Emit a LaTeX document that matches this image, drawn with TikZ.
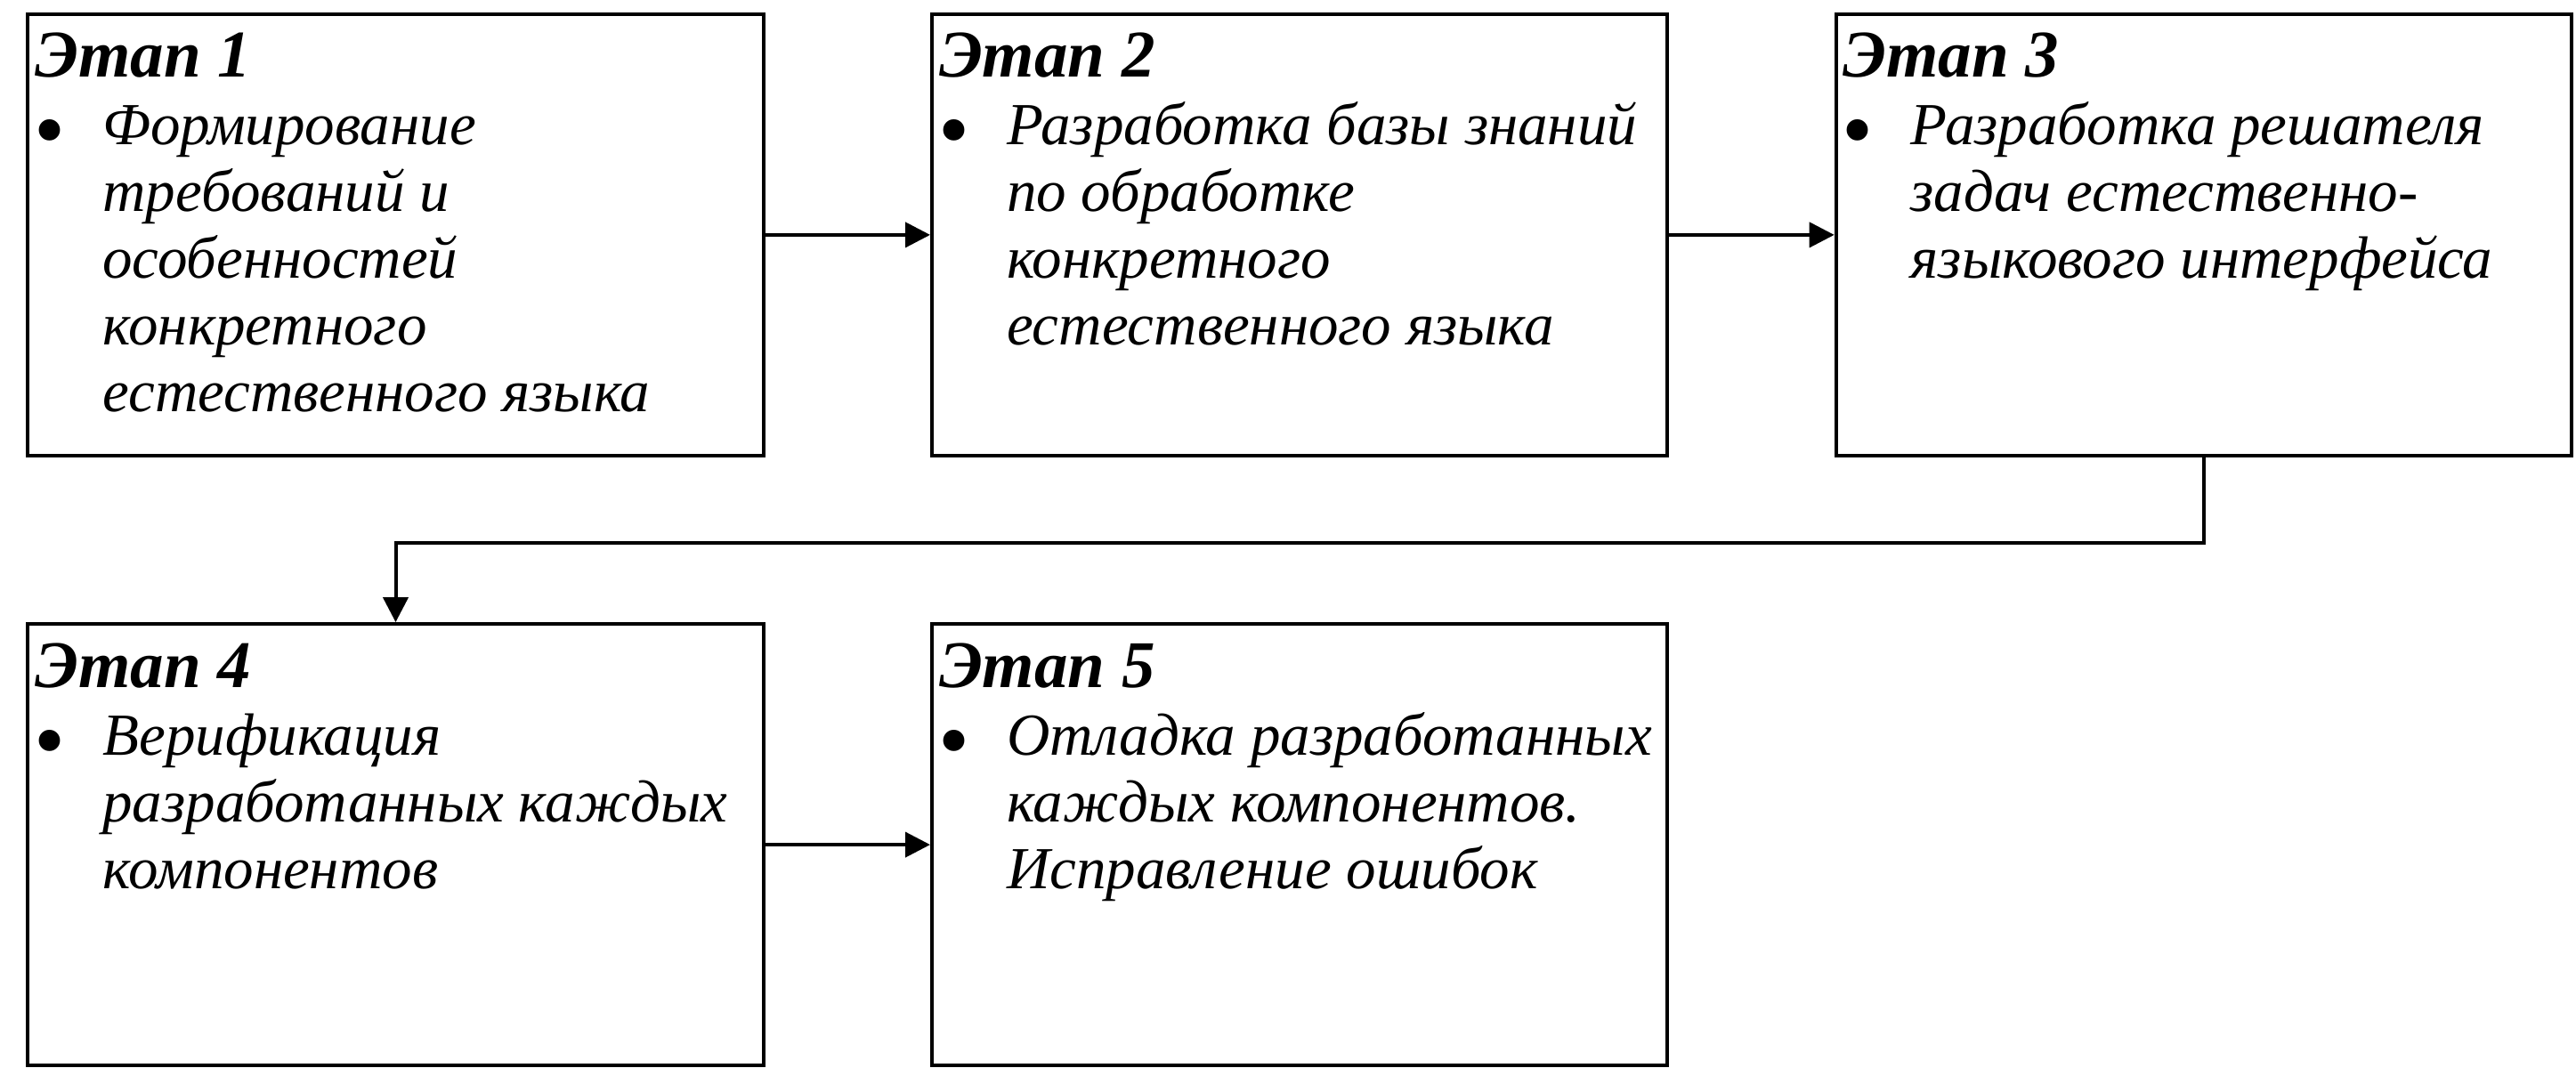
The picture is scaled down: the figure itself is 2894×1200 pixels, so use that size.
\documentclass[tikz,border=0pt]{standalone}
\usepackage{fontspec}
\setmainfont{Liberation Serif}
\usetikzlibrary{arrows.meta}
\tikzset{
  stagebox/.style={draw, line width=0.8pt, minimum width=165.2pt, minimum height=99.2pt, inner sep=0pt},
  titletext/.style={anchor=base west, inner sep=0pt, font=\fontsize{15}{17}\selectfont\bfseries\itshape},
  bodytext/.style={anchor=north west, inner sep=0pt, align=left, font=\fontsize{13.4}{15}\selectfont\itshape},
  bullettext/.style={anchor=base west, inner sep=0pt, font=\fontsize{20}{20}\selectfont},
  arr/.style={line width=0.8pt, -{Triangle[length=5.6pt,width=5.6pt]}}
}
\begin{document}
\begin{tikzpicture}[x=0.2pt,y=-0.2pt]
\useasboundingbox (0,0) rectangle (2894,1200);
% boxes
\node[stagebox] (b1) at (444.5,263.9) {};
\node[stagebox] (b2) at (1460,263.9) {};
\node[stagebox] (b3) at (2475.7,263.9) {};
\node[stagebox] (b4) at (444.5,949.1) {};
\node[stagebox] (b5) at (1460,949.1) {};
% titles
\node[titletext] (t1) at ([shift={(9,73)}]b1.north west) {Этап 1};
\node[titletext] (t2) at ([shift={(9,73)}]b2.north west) {Этап 2};
\node[titletext] (t3) at ([shift={(9,73)}]b3.north west) {Этап 3};
\node[titletext] (t4) at ([shift={(9,73)}]b4.north west) {Этап 4};
\node[titletext] (t5) at ([shift={(9,73)}]b5.north west) {Этап 5};
% bullets
\node[bullettext] (u1) at ([shift={(8,166)}]b1.north west) {•};
\node[bullettext] (u2) at ([shift={(8,166)}]b2.north west) {•};
\node[bullettext] (u3) at ([shift={(8,166)}]b3.north west) {•};
\node[bullettext] (u4) at ([shift={(8,166)}]b4.north west) {•};
\node[bullettext] (u5) at ([shift={(8,166)}]b5.north west) {•};
% bodies
\node[bodytext] (x1) at ([shift={(85,88)}]b1.north west) {\rule{0pt}{12pt}Формирование\\требований и\\особенностей\\конкретного\\естественного языка};
\node[bodytext] (x2) at ([shift={(85,88)}]b2.north west) {\rule{0pt}{12pt}Разработка базы знаний\\по обработке\\конкретного\\естественного языка};
\node[bodytext] (x3) at ([shift={(85,88)}]b3.north west) {\rule{0pt}{12pt}Разработка решателя\\задач естественно-\\языкового интерфейса};
\node[bodytext] (x4) at ([shift={(85,88)}]b4.north west) {\rule{0pt}{12pt}Верификация\\разработанных каждых\\компонентов};
\node[bodytext] (x5) at ([shift={(85,88)}]b5.north west) {\rule{0pt}{12pt}Отладка разработанных\\каждых компонентов.\\Исправление ошибок};
% connectors
\draw[arr] (b1) -- (b2);
\draw[arr] (b2) -- (b3);
\draw[arr] (b4) -- (b5);
\coordinate (turn) at ([shift={(0,-89)}]b4.north);
\draw[arr] (b3.south) |- (turn) -- (b4.north);
\end{tikzpicture}
\end{document}
